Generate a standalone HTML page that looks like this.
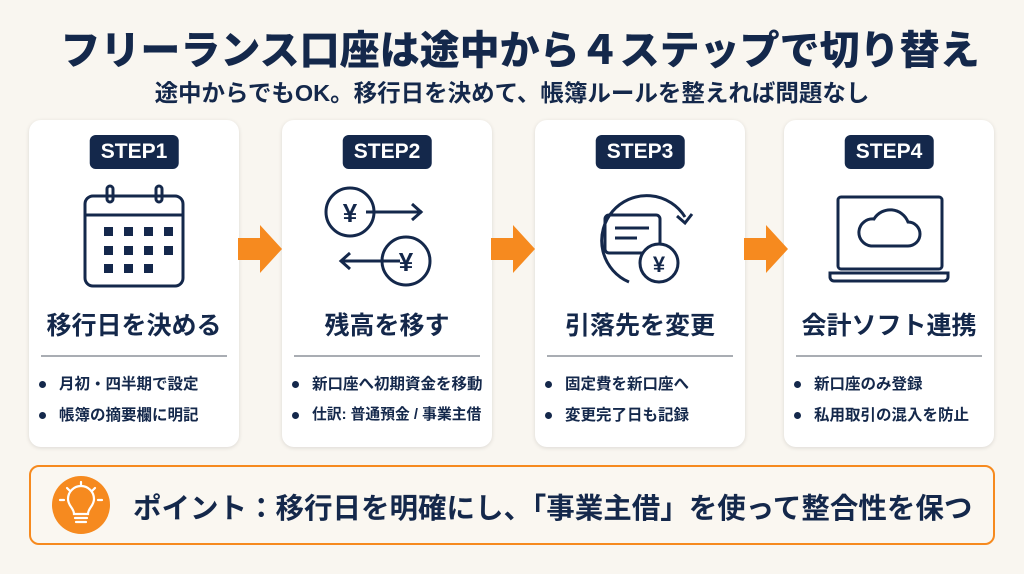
<!DOCTYPE html>
<html><head><meta charset="utf-8">
<style>
*{margin:0;padding:0;box-sizing:border-box}
body{width:1024px;height:574px;background:#f9f6f0;position:relative;overflow:hidden;font-family:"Liberation Sans","Noto Sans CJK JP",sans-serif;color:#14284b}
.t{position:absolute;left:0;width:1024px;text-align:center;font-weight:900;white-space:nowrap}
.card{position:absolute;top:120px;width:210px;height:327px;background:#fff;border-radius:12px;box-shadow:0 1px 4px rgba(0,0,0,.12)}
.badge{position:absolute;top:15px;left:50%;transform:translateX(-50%);background:#14284b;color:#fff;font-weight:700;font-size:21px;padding:5px 11px;border-radius:6px;line-height:24px}
.icon{position:absolute;top:60px;left:0;width:210px;height:110px}
.ct{position:absolute;top:186px;left:0;width:210px;text-align:center;font-size:25px;font-weight:700;white-space:nowrap}
.hr{position:absolute;top:235px;left:12px;right:12px;height:2px;background:#a9adb3}
.b{position:absolute;left:10px;font-size:15.5px;font-weight:700;white-space:nowrap}
.b:before{content:"";display:inline-block;width:7px;height:7px;border-radius:50%;background:#14284b;margin-right:13px;vertical-align:middle}
.arr{position:absolute;top:225px}
</style></head><body>
<div class="t" style="top:18px;font-size:40px;left:8px">フリーランス口座は途中から４ステップで切り替え</div>
<div class="t" style="top:74px;font-size:23.5px;font-weight:700">途中からでもOK。移行日を決めて、帳簿ルールを整えれば問題なし</div>

<div class="card" style="left:29px">
<div class="badge">STEP1</div>
<svg class="icon" viewBox="0 0 210 110"><g fill="none" stroke="#14284b" stroke-width="3"><rect x="56" y="16" width="98" height="90" rx="8"/><line x1="56" y1="35" x2="154" y2="35"/><rect x="78" y="6" width="6" height="16" rx="3"/><rect x="127" y="6" width="6" height="16" rx="3"/></g><g fill="#14284b"><rect x="75" y="47" width="9" height="9"/><rect x="95" y="47" width="9" height="9"/><rect x="115" y="47" width="9" height="9"/><rect x="135" y="47" width="9" height="9"/><rect x="75" y="66" width="9" height="9"/><rect x="95" y="66" width="9" height="9"/><rect x="115" y="66" width="9" height="9"/><rect x="135" y="66" width="9" height="9"/><rect x="75" y="84" width="9" height="9"/><rect x="95" y="84" width="9" height="9"/><rect x="115" y="84" width="9" height="9"/></g></svg>
<div class="ct">移行日を決める</div><div class="hr"></div>
<div class="b" style="top:252px">月初・四半期で設定</div>
<div class="b" style="top:283px">帳簿の摘要欄に明記</div>
</div>

<div class="card" style="left:282px">
<div class="badge">STEP2</div>
<svg class="icon" viewBox="0 0 210 110"><g fill="none" stroke="#14284b" stroke-width="3"><circle cx="68" cy="32" r="24"/><circle cx="124" cy="81" r="24"/><path d="M84 32h56M130 24l9 8-9 8M118 81H60M68 73l-9 8 9 8"/></g><text x="68" y="42" text-anchor="middle" font-size="26" font-weight="700" fill="#14284b">¥</text><text x="124" y="91" text-anchor="middle" font-size="26" font-weight="700" fill="#14284b">¥</text></svg>
<div class="ct">残高を移す</div><div class="hr"></div>
<div class="b" style="top:252px">新口座へ初期資金を移動</div>
<div class="b" style="top:283px;font-size:14.8px">仕訳: 普通預金 / 事業主借</div>
</div>

<div class="card" style="left:535px">
<div class="badge">STEP3</div>
<svg class="icon" viewBox="0 0 210 110"><g fill="none" stroke="#14284b" stroke-width="3"><path d="M94 102A45 45 0 1 1 150 37"/><path d="M142 36l8 7 7-9"/><rect x="70" y="35" width="55" height="38" rx="4"/><path d="M80 48h34M80 58h22"/><circle cx="124" cy="83" r="19" fill="#fff"/></g><text x="124" y="92" text-anchor="middle" font-size="22" font-weight="700" fill="#14284b">¥</text></svg>
<div class="ct">引落先を変更</div><div class="hr"></div>
<div class="b" style="top:252px">固定費を新口座へ</div>
<div class="b" style="top:283px">変更完了日も記録</div>
</div>

<div class="card" style="left:784px">
<div class="badge">STEP4</div>
<svg class="icon" viewBox="0 0 210 110"><g fill="none" stroke="#14284b" stroke-width="3"><rect x="54" y="17" width="104" height="72" rx="3"/><path d="M46 93h118v4a4 4 0 0 1-4 4H50a4 4 0 0 1-4-4z"/><path d="M87 66h37a12 12 0 0 0 0-24 19 19 0 0 0-34-3 13 13 0 0 0-3 27z"/></g></svg>
<div class="ct">会計ソフト連携</div><div class="hr"></div>
<div class="b" style="top:252px">新口座のみ登録</div>
<div class="b" style="top:283px">私用取引の混入を防止</div>
</div>

<svg class="arr" style="left:238px" width="45" height="48"><path d="M0 13h22V0l22 24-22 24V35H0z" fill="#f68a1f"/></svg>
<svg class="arr" style="left:491px" width="45" height="48"><path d="M0 13h22V0l22 24-22 24V35H0z" fill="#f68a1f"/></svg>
<svg class="arr" style="left:744px" width="45" height="48"><path d="M0 13h22V0l22 24-22 24V35H0z" fill="#f68a1f"/></svg>

<div style="position:absolute;left:29px;top:465px;width:966px;height:80px;border:2px solid #f68a1f;border-radius:10px;background:#faf7f1"></div>
<svg style="position:absolute;left:52px;top:476px" width="58" height="58" viewBox="0 0 58 58"><circle cx="29" cy="29" r="29" fill="#f68a1f"/><g fill="none" stroke="#fff" stroke-width="2.2" stroke-linecap="round"><path d="M22 38c0-6-6-8-6-15a13 13 0 0 1 26 0c0 7-6 9-6 15z"/><path d="M23 42h12M24 46h10"/><path d="M29 6v4M15 12l3 3M43 12l-3 3M8 24h4M46 24h4"/></g></svg>
<div style="position:absolute;left:133px;top:486px;font-size:28.5px;font-weight:700;white-space:nowrap">ポイント：移行日を明確にし、「事業主借」を使って整合性を保つ</div>
</body></html>
